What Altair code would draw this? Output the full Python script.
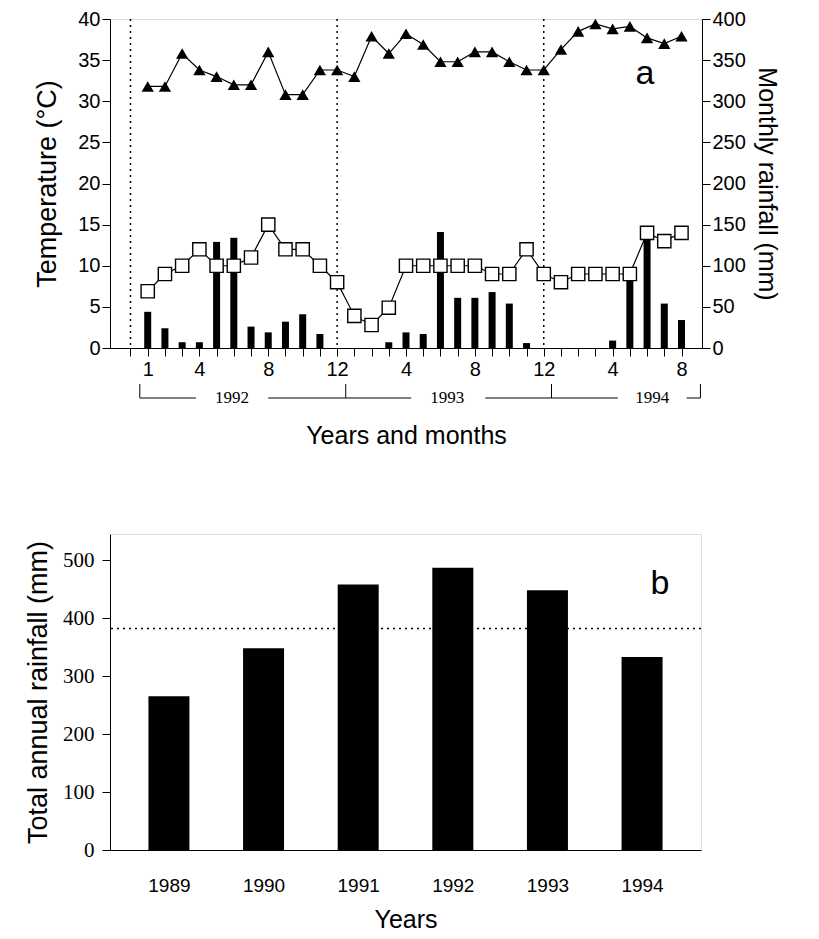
import altair as alt
import pandas as pd

# panel a: monthly series, Jan 1992 (1) .. Aug 1994 (32)
months = list(range(1, 33))
tmax = [31.8, 31.8, 35.8, 33.8, 33.0, 32.0, 32.0, 36.0, 30.8, 30.8, 33.8, 33.8,
        33.0, 37.9, 35.8, 38.2, 36.9, 34.8, 34.8, 36.0, 36.0, 34.8, 33.8, 33.8,
        36.3, 38.5, 39.4, 38.8, 39.1, 37.7, 37.0, 37.9]
tmin = [6.9, 9.0, 10.0, 12.0, 10.0, 10.0, 11.0, 15.0, 12.0, 12.0, 10.0, 8.0,
        3.9, 2.8, 4.9, 10.0, 10.0, 10.0, 10.0, 10.0, 9.0, 9.0, 12.0, 9.0,
        8.0, 9.0, 9.0, 9.0, 9.0, 14.0, 13.0, 14.0]
rain = [44, 24, 7, 7, 129, 134, 26, 19, 32, 41, 17, 0,
        0, 0, 7, 19, 17, 141, 61, 61, 68, 54, 6, 0,
        0, 0, 0, 9, 84, 139, 54, 34]
tick_months = [1, 4, 8, 12, 16, 20, 24, 28, 32]
tick_labels = ["1", "4", "8", "12", "4", "8", "12", "4", "8"]
year_starts = [0, 12, 24]
year_names = ["1992", "1993", "1994"]
year_label_pos = [5.9, 18.4, 30.3]
bracket_segments = [(0.54, 3.8), (8.0, 16.3), (20.6, 28.3), (32.3, 33.1)]
bracket_ends = [0.54, 12.5, 24.45, 33.1]

# panel b: annual totals
years = [1989, 1990, 1991, 1992, 1993, 1994]
annual = [265, 348, 458, 487, 448, 333]
annual_mean = 382

FONT = "Liberation Sans"
monthly = pd.DataFrame({"month": months, "tmax": tmax, "tmin": tmin, "rain": rain})

label_map = "{" + ",".join(f"'{m}':'{l}'" for m, l in zip(tick_months, tick_labels)) + "}"
xa = alt.X(
    "month:Q",
    scale=alt.Scale(domain=[-0.9, 32.9], nice=False, zero=False),
    axis=alt.Axis(
        values=list(range(0, 33)), labelExpr=f"{label_map}[datum.value] || ''",
        labelOverlap=False, title="Years and months", titleFontSize=25,
        titleFontWeight="normal", titlePadding=44, labelFontSize=20, labelPadding=3,
        tickSize=8, grid=False, domainColor="black", tickColor="black", labelColor="black",
        titleColor="black",
    ),
)

bars = alt.Chart(monthly).mark_bar(color="black", size=7).encode(
    x=xa,
    y=alt.Y(
        "rain:Q",
        scale=alt.Scale(domain=[0, 400], nice=False),
        axis=alt.Axis(
            orient="right", values=list(range(0, 401, 50)), title="Monthly rainfall (mm)",
            titleAngle=90, titleFontSize=25, titleFontWeight="normal", titlePadding=8,
            labelFontSize=20, tickSize=8, grid=False, domainColor="black", tickColor="black",
            labelColor="black", titleColor="black",
        ),
    ),
)

temp_axis = alt.Axis(
    values=list(range(0, 41, 5)), title="Temperature (°C)", titleFontSize=27,
    titleFontWeight="normal", titlePadding=16, labelFontSize=20, tickSize=8, grid=False,
    domainColor="black", tickColor="black", labelColor="black", titleColor="black",
)
tscale = alt.Scale(domain=[0, 40], nice=False)
tmax_line = alt.Chart(monthly).mark_line(color="black", strokeWidth=1.2).encode(
    x=xa, y=alt.Y("tmax:Q", scale=tscale, axis=temp_axis)
)
tmax_pts = alt.Chart(monthly).mark_point(
    shape="triangle-up", filled=True, color="black", size=150, opacity=1
).encode(x=xa, y=alt.Y("tmax:Q", scale=tscale))
tmin_line = alt.Chart(monthly).mark_line(color="black", strokeWidth=1.2).encode(
    x=xa, y=alt.Y("tmin:Q", scale=tscale)
)
tmin_pts = alt.Chart(monthly).mark_point(
    shape="square", filled=True, fill="white", stroke="black", strokeWidth=1.4, size=175, opacity=1
).encode(x=xa, y=alt.Y("tmin:Q", scale=tscale))

vlines = alt.Chart(pd.DataFrame({"month": year_starts})).mark_rule(
    color="black", strokeDash=[2, 4], strokeWidth=1.5
).encode(x=xa)

seg_df = pd.DataFrame({"month": [s[0] for s in bracket_segments], "b": [s[1] for s in bracket_segments]})
bracket = alt.Chart(seg_df).mark_rule(color="black", strokeWidth=1).encode(
    x=xa, x2="b:Q", y=alt.value(379)
)
ends = alt.Chart(pd.DataFrame({"month": bracket_ends})).mark_rule(color="black", strokeWidth=1).encode(
    x=xa, y=alt.value(365), y2=alt.value(379)
)
ylabels = alt.Chart(pd.DataFrame({"month": year_label_pos, "t": year_names})).mark_text(
    font="Liberation Serif", fontSize=17, baseline="middle", color="black"
).encode(x=xa, y=alt.value(379), text="t:N")
tag_a = alt.Chart(pd.DataFrame({"t": ["a"]})).mark_text(
    font=FONT, fontSize=34, color="black"
).encode(x=alt.value(535), y=alt.value(55), text="t:N")

temps = alt.layer(vlines, tmax_line, tmax_pts, tmin_line, tmin_pts, bracket, ends, ylabels, tag_a)
panel_a = alt.layer(bars, temps).resolve_scale(y="independent").properties(width=592, height=329)

# panel b
annual_df = pd.DataFrame({"year": years, "total": annual})
xb = alt.X(
    "year:Q",
    scale=alt.Scale(domain=[1988.43, 1994.57], nice=False, zero=False),
    axis=alt.Axis(
        values=years, format="d", ticks=False, labelOverlap=False, title="Years",
        titleFontSize=25, titleFontWeight="normal", titlePadding=12, labelFontSize=19,
        labelPadding=26, grid=False, domainColor="black", labelColor="black", titleColor="black",
    ),
)
yb_scale = alt.Scale(domain=[0, 545], nice=False)
bars_b = alt.Chart(annual_df).mark_bar(color="black", size=41).encode(
    x=xb,
    y=alt.Y(
        "total:Q", scale=yb_scale,
        axis=alt.Axis(
            values=list(range(0, 501, 50)), labelExpr="datum.value % 100 == 0 ? datum.label : ''",
            labelOverlap=False, title="Total annual rainfall (mm)", titleFontSize=27,
            titleFontWeight="normal", titlePadding=10, labelFont="Liberation Sans Narrow",
            labelFontSize=21, labelPadding=8, tickSize=8, grid=False, domainColor="black",
            tickColor="black", labelColor="black", titleColor="black",
        ),
    ),
)
mean_rule = alt.Chart(pd.DataFrame({"v": [annual_mean]})).mark_rule(
    color="black", strokeDash=[2, 4], strokeWidth=1.5
).encode(y=alt.Y("v:Q", scale=yb_scale))
tag_b = alt.Chart(pd.DataFrame({"t": ["b"]})).mark_text(
    font=FONT, fontSize=34, color="black"
).encode(x=alt.value(550), y=alt.value(50), text="t:N")
panel_b = alt.layer(mean_rule, bars_b, tag_b).properties(width=591, height=316)

chart = (
    alt.vconcat(panel_a, panel_b, spacing=84)
    .properties(padding={"left": 16, "top": 0, "right": 8, "bottom": 0})
    .configure_view(stroke="black", strokeWidth=1.5)
    .configure_axis(labelFont=FONT, titleFont=FONT, domainWidth=1.5, tickWidth=1.5)
    .configure(background="white")
)
chart.save("out.html", embed_options={"renderer": "svg", "actions": False})
